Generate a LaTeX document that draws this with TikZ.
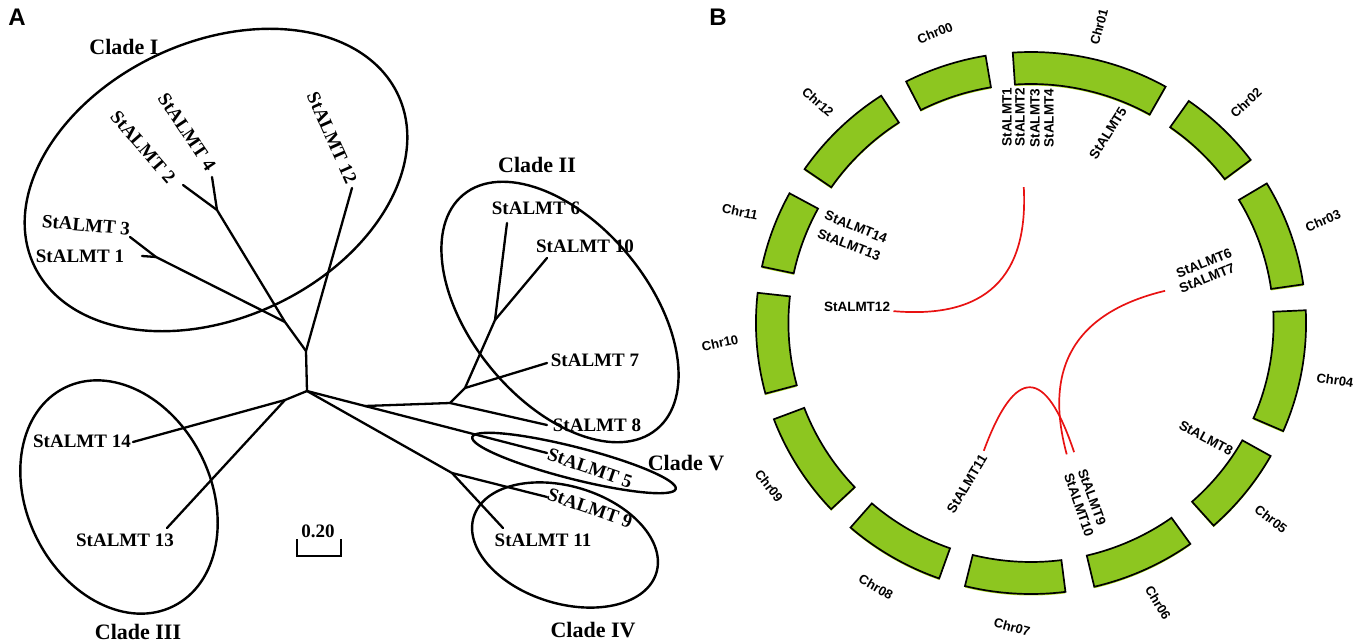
\documentclass[tikz,border=0pt]{standalone}
\usepackage{fontspec}
\setmainfont{Liberation Serif}
\setsansfont{Liberation Sans}
\usetikzlibrary{calc}
\definecolor{chrgreen}{RGB}{141,198,32}
\definecolor{chrshade}{RGB}{178,222,40}
\definecolor{linkred}{RGB}{232,18,18}

\begin{document}
\begin{tikzpicture}[x=1pt,y=-1pt,
    branch/.style={line width=2.3pt,line cap=round,line join=round},
    clade/.style={line width=2.4pt},
    leaf/.style={font={\fontsize{19}{19}\selectfont\bfseries},inner sep=0pt},
    cladename/.style={font={\fontsize{22}{22}\selectfont\bfseries},inner sep=0pt},
    panel/.style={font={\fontsize{24}{24}\selectfont\sffamily\bfseries},inner sep=0pt},
    chrom/.style={draw=black,line width=1.7pt,fill=chrgreen,
        preaction={fill=chrshade,transform canvas={yshift=-1.5pt}}},
    chrname/.style={font={\fontsize{13}{13}\selectfont\sffamily\bfseries},inner sep=0pt},
    gene/.style={font={\fontsize{13.5}{13.5}\selectfont\sffamily\bfseries},inner sep=0pt},
    link/.style={linkred,line width=1.7pt}]
\useasboundingbox (0,0) rectangle (1358,642);

\node[panel] (A) at (17,17) {A};
\node[panel] (B) at (718,17) {B};

% tree, panel A
\coordinate (P) at (307,391);
\coordinate (Q) at (306,351);
\coordinate (R) at (285,322);
\coordinate (N13) at (156,257);
\coordinate (N24) at (217,210);
\coordinate (S) at (285,400);
\coordinate (U) at (365,406);
\coordinate (V) at (450,403);
\coordinate (X) at (465,388);
\coordinate (W) at (495,320);
\coordinate (Y) at (452,473);
\coordinate (l1) at (142,256);
\coordinate (l2) at (183,185);
\coordinate (l3) at (130,237);
\coordinate (l4) at (212,177);
\coordinate (l5) at (547,453);
\coordinate (l6) at (507,223);
\coordinate (l7) at (547,363);
\coordinate (l8) at (547,425);
\coordinate (l9) at (547,497);
\coordinate (l10) at (547,258);
\coordinate (l11) at (503,528);
\coordinate (l12) at (352,188);
\coordinate (l13) at (167,528);
\coordinate (l14) at (133,442);

\foreach \a/\b in {Q/P,Q/R,Q/l12,R/N13,N13/l3,N13/l1,R/N24,N24/l2,N24/l4,
    P/S,S/l14,S/l13,P/U,U/l5,U/V,V/l8,V/X,X/l7,X/W,W/l6,W/l10,P/Y,Y/l9,Y/l11}
  \draw[branch] (\a) -- (\b);

\node[leaf,rotate=-5] (t3) at (86,225) {StALMT 3};
\node[leaf] (t1) at (80,256) {StALMT 1};
\node[leaf,rotate=-49] (t2) at (143,147) {StALMT 2};
\node[leaf,rotate=-56] (t4) at (187,132) {StALMT 4};
\node[leaf,rotate=-66] (t12) at (332,138) {StALMT 12};
\node[leaf] (t14) at (82,441) {StALMT 14};
\node[leaf] (t13) at (125,540) {StALMT 13};
\node[leaf] (t6) at (536,208) {StALMT 6};
\node[leaf] (t10) at (585,246) {StALMT 10};
\node[leaf] (t7) at (595,360) {StALMT 7};
\node[leaf] (t8) at (597,425) {StALMT 8};
\node[leaf,rotate=-19] (t5) at (590,468) {StALMT 5};
\node[leaf,rotate=-19] (t9) at (590,508) {StALMT 9};
\node[leaf] (t11) at (543,540) {StALMT 11};

\draw[clade,rotate around={25:(216,180)}] (216,180) ellipse [x radius=201,y radius=138];
\draw[clade,rotate around={-50.5:(560,312)}] (560,312) ellipse [x radius=152,y radius=89];
\draw[clade,rotate around={-63.5:(119,497)}] (119,497) ellipse [x radius=122,y radius=92];
\draw[clade,rotate around={-17:(565,545)}] (565,545) ellipse [x radius=95.5,y radius=58.6];
\draw[clade,rotate around={-14.3:(574,463)}] (574,463) ellipse [x radius=105,y radius=16];

\node[cladename] (cI) at (124,47) {Clade I};
\node[cladename] (cII) at (537,165) {Clade II};
\node[cladename] (cIII) at (138,632) {Clade III};
\node[cladename] (cIV) at (593,630) {Clade IV};
\node[cladename] (cV) at (686,463) {Clade V};

\node[leaf] (bar) at (318,531) {0.20};
\coordinate (barl) at (297,539);
\coordinate (barr) at (341,539);
\draw[line width=1.3pt] (barl) -- ++(0,17) -| (barr);

% circle, panel B
\begin{scope}[shift={(1031,323)},xscale=1.015,yscale=-1]
\foreach \a/\b in {99.5/117,60.7/93.8,37/55,8.2/31,-23.5/2.7,-48.4/-29.4,-76.7/-54.6,
    -103.9/-82.8,-131/-109.5,-159.2/-136.6,173.6/195.1,151.4/168,123/145.4}
  \draw[chrom] (\a:239) arc[start angle=\a,end angle=\b,radius=239]
    -- (\b:271) arc[start angle=\b,end angle=\a,radius=271] -- cycle;
\coordinate (ctr) at (0,0);
\coordinate (g1) at (93:136);
\coordinate (g12) at (175:136);
\coordinate (g67) at (13.7:136);
\coordinate (g10) at (-75:136);
\coordinate (g9) at (-71.8:136);
\coordinate (g11) at (-110:136);
\end{scope}

\draw[link] (g12) .. controls ($(g12)!2/3!(ctr)$) and ($(g1)!2/3!(ctr)$) .. (g1);
\draw[link] (g67) .. controls ($(g67)!2/3!(ctr)$) and ($(g10)!2/3!(ctr)$) .. (g10);
\draw[link] (g11) .. controls ($(g11)!2/3!(ctr)$) and ($(g9)!2/3!(ctr)$) .. (g9);

\node[chrname,rotate=22] (c00) at (935,33) {Chr00};
\node[chrname,rotate=75] (c01) at (1099,27) {Chr01};
\node[chrname,rotate=43] (c02) at (1246,103) {Chr02};
\node[chrname,rotate=23] (c03) at (1323,221) {Chr03};
\node[chrname,rotate=-8] (c04) at (1335,380) {Chr04};
\node[chrname,rotate=-38] (c05) at (1271,519) {Chr05};
\node[chrname,rotate=-59] (c06) at (1158,603) {Chr06};
\node[chrname,rotate=-15] (c07) at (1012,627) {Chr07};
\node[chrname,rotate=-30] (c08) at (876,587) {Chr08};
\node[chrname,rotate=-52] (c09) at (769,486) {Chr09};
\node[chrname,rotate=12] (c10) at (720,343) {Chr10};
\node[chrname,rotate=-12] (c11) at (740,212) {Chr11};
\node[chrname,rotate=-42] (c12) at (818,102) {Chr12};

\node[gene,rotate=90] (s1) at (1007,117) {StALMT1};
\node[gene,rotate=90] (s2) at (1020,117) {StALMT2};
\node[gene,rotate=90] (s3) at (1035,118) {StALMT3};
\node[gene,rotate=90] (s4) at (1049,118) {StALMT4};
\node[gene,rotate=58] (s5) at (1108,133) {StALMT5};
\node[gene,rotate=22] (s6) at (1204,263) {StALMT6};
\node[gene,rotate=22] (s7) at (1207,278) {StALMT7};
\node[gene,rotate=-28] (s8) at (1206,438) {StALMT8};
\node[gene,rotate=-70] (s9) at (1092,497) {StALMT9};
\node[gene,rotate=-71] (s10) at (1079,505) {StALMT10};
\node[gene,rotate=59] (s11) at (967,484) {StALMT11};
\node[gene] (s12) at (857,307) {StALMT12};
\node[gene,rotate=-22] (s14) at (856,227) {StALMT14};
\node[gene,rotate=-21] (s13) at (849,245) {StALMT13};
\end{tikzpicture}
\end{document}
